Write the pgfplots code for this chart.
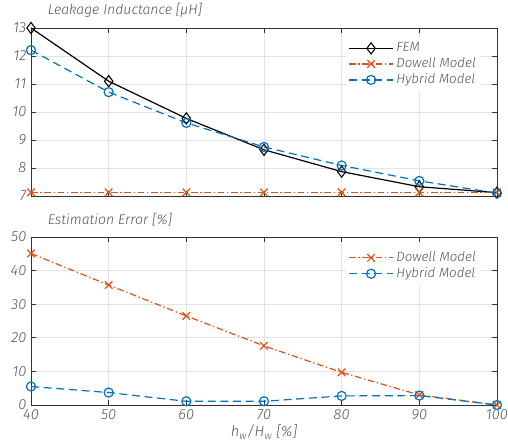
\documentclass[border=0pt]{standalone}
\usepackage{fontspec}
\setmainfont{Fira Sans}[UprightFont=* Light, ItalicFont=* Light Italic]
\usepackage{pgfplots}
\pgfplotsset{compat=1.18}
\definecolor{dowell}{rgb}{0.850,0.325,0.098}
\definecolor{hybrid}{rgb}{0,0.447,0.741}
\definecolor{txt}{gray}{0.33}
\pgfplotsset{
  myax/.style={
    scale only axis, width=349.5pt, height=126pt,
    xmin=40, xmax=100, xtick={40,50,...,100},
    grid=major, grid style={gray!22, line width=0.5pt},
    axis line style={black!80, line width=0.6pt},
    tick style={black!80, line width=0.5pt},
    tick align=inside, major tick length=4pt,
    /pgf/number format/assume math mode=true,
    tick label style={font=\itshape\fontsize{11}{13}\selectfont, text=txt},
    label style={font=\itshape\fontsize{11}{13}\selectfont, text=txt},
    title style={at={(0.03,1)}, anchor=south west, font=\itshape\fontsize{10.5}{12}\selectfont,
      text=txt, inner sep=2pt},
    legend style={draw=none, fill=white, font=\itshape\fontsize{10}{12}\selectfont,
      text=txt, cells={anchor=west}, row sep=-1pt, inner sep=2pt},
    legend image code/.code={
      \draw[mark repeat=2,mark phase=2] plot coordinates {(0cm,0cm) (0.58cm,0cm) (1.16cm,0cm)};},
  },
  fem/.style={black, line width=0.9pt, mark=diamond, mark size=4.2pt, mark options={solid, line width=0.8pt}},
  dow/.style={dowell, line width=0.9pt, dash pattern=on 5pt off 2pt on 1pt off 2pt, mark=x, mark size=4pt, mark options={solid, line width=0.9pt}},
  hyb/.style={hybrid, line width=0.9pt, dash pattern=on 6pt off 3.5pt, mark=o, mark size=3.4pt, mark options={solid, line width=0.9pt}},
}
\begin{document}
\begin{tikzpicture}
\begin{axis}[myax, name=top,
  ymin=7, ymax=13, ytick={7,8,...,13}, xticklabels={},
  title={Leakage Inductance [μH]},
  legend style={at={(0.675,0.945)}, anchor=north west},
]
\addplot[fem] coordinates {(40,13.0) (50,11.1) (60,9.77) (70,8.65) (80,7.87) (90,7.33) (100,7.12)};
\addlegendentry{FEM}
\addplot[dow] coordinates {(40,7.13) (50,7.13) (60,7.13) (70,7.13) (80,7.13) (90,7.13) (100,7.13)};
\addlegendentry{Dowell Model}
\addplot[hyb] coordinates {(40,12.21) (50,10.71) (60,9.61) (70,8.75) (80,8.09) (90,7.54) (100,7.10)};
\addlegendentry{Hybrid Model}
\end{axis}
\begin{axis}[myax, at={(top.south west)}, anchor=north west, yshift=-30.75pt,
  ymin=0, ymax=50, ytick={0,10,...,50},
  title={Estimation Error [\%]},
  xlabel={h\textsubscript{w}/H\textsubscript{w} [\%]}, xlabel style={yshift=3pt},
  legend style={at={(0.675,0.945)}, anchor=north west},
]
\addplot[dow] coordinates {(40,45.1) (50,35.7) (60,26.5) (70,17.6) (80,9.7) (90,3.0) (100,0)};
\addlegendentry{Dowell Model}
\addplot[hyb] coordinates {(40,5.5) (50,3.7) (60,1.1) (70,1.1) (80,2.7) (90,2.8) (100,0)};
\addlegendentry{Hybrid Model}
\end{axis}
\pgfresetboundingbox
\path[use as bounding box] ([shift={(-23.25pt,21pt)}]top.north west) rectangle ([shift={(357.75pt,-315pt)}]top.north west);
\end{tikzpicture}
\end{document}
